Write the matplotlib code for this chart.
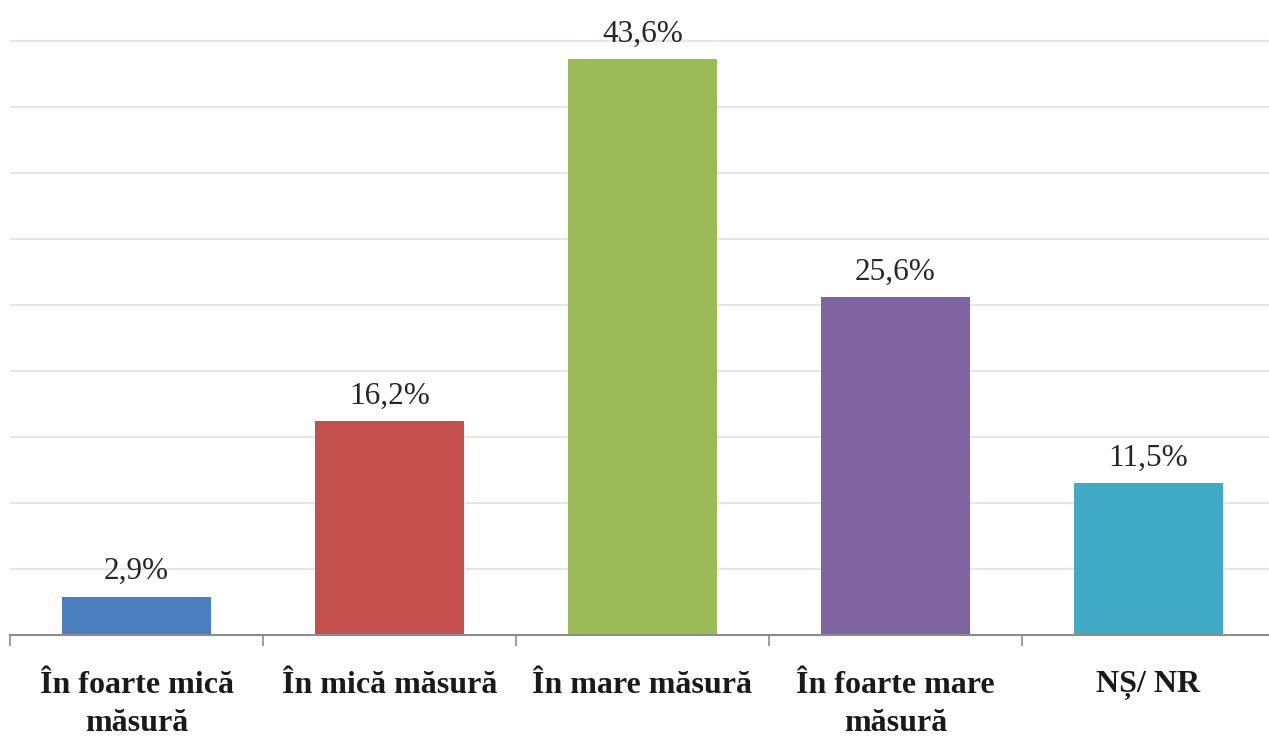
import matplotlib.pyplot as plt

categories = ['În foarte mică\nmăsură', 'În mică măsură', 'În mare măsură',
              'În foarte mare\nmăsură', 'NȘ/ NR']
values = [2.9, 16.2, 43.6, 25.6, 11.5]
labels = ['2,9%', '16,2%', '43,6%', '25,6%', '11,5%']
colors = ['#4A7EBF', '#C4504E', '#9BBB59', '#8064A2', '#41AAC6']

plt.rcParams['font.family'] = ['Liberation Serif', 'DejaVu Serif']

ymax = 45.3
fig = plt.figure(figsize=(12.69, 7.36), dpi=100)
ax = fig.add_axes([10 / 1269, 1 - 635 / 736, 1265 / 1269, 594 / 736 * ymax / 45])

x = range(len(categories))
bars = ax.bar(x, values, width=0.59, color=colors, zorder=3)

ax.set_ylim(0, ymax)
ax.set_xlim(-0.5, len(categories) - 0.5)
ax.set_yticks(range(5, 50, 5))
ax.yaxis.grid(True, color='#DCE1EE', linewidth=1.2, zorder=0)
ax.tick_params(axis='y', left=False, labelleft=False)

for b, lab in zip(bars, labels):
    ax.annotate(lab, (b.get_x() + b.get_width() / 2, b.get_height()),
                xytext=(0, 7.5), textcoords='offset points',
                ha='center', va='bottom', fontsize=22.5, color='#262626')

ax.set_xticks(x)
ax.set_xticklabels(categories, fontsize=23, fontweight='bold', color='#1a1a1a',
                   linespacing=1.4)
ax.tick_params(axis='x', length=0, pad=26)
ax.set_xticks([i - 0.5 for i in range(len(categories) + 1)], minor=True)
ax.tick_params(axis='x', which='minor', length=8, color='#8c8c8c', width=1.2)

for s in ['top', 'right', 'left']:
    ax.spines[s].set_visible(False)
ax.spines['bottom'].set_color('#8c8c8c')
ax.spines['bottom'].set_linewidth(1.5)
ax.spines['bottom'].set_zorder(4)

fig.savefig('out.png', dpi=100)
